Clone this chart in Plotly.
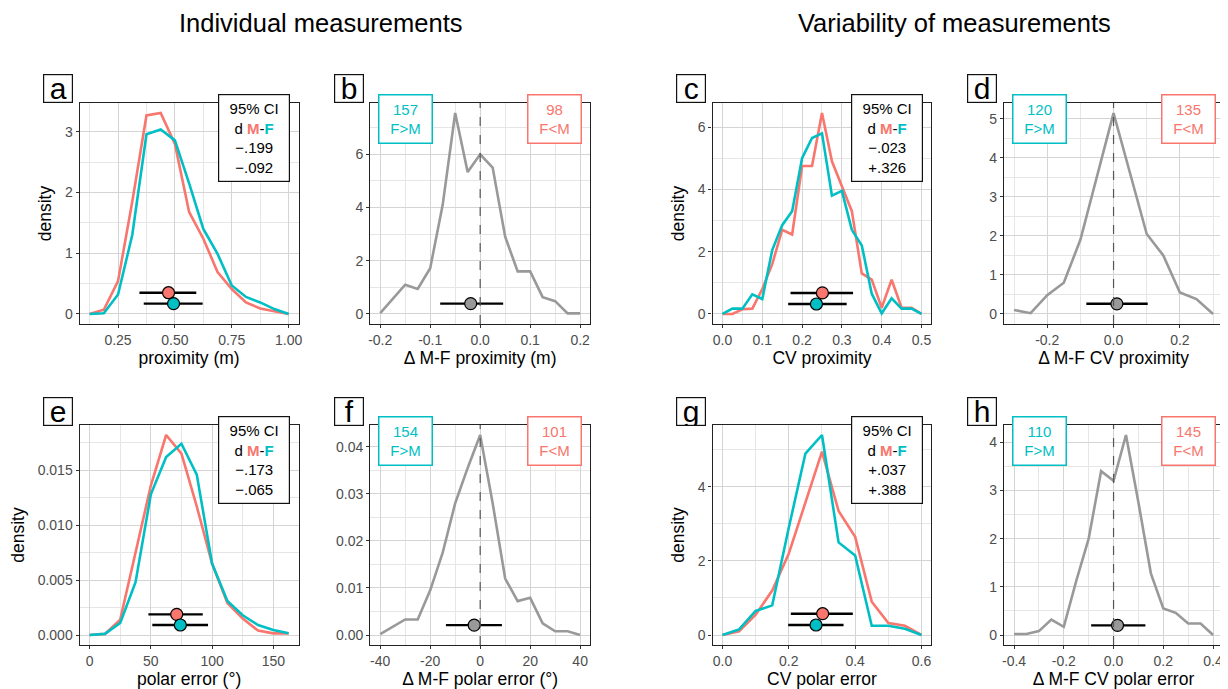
import plotly.graph_objects as go

# page body has an 8px margin: figure is sized/offset to compensate
OFF = 8
W, H = 1228 - OFF, 689 - OFF
RED = "#F8766D"
TEAL = "#00BFC4"
GREY = "#999999"
FONT = "Liberation Sans, Arial, sans-serif"

# ---------------- data ----------------
# a: proximity density
prox_x = [0.125, 0.1875, 0.25, 0.3125, 0.375, 0.4375, 0.5, 0.5625, 0.625, 0.6875, 0.75, 0.8125, 0.875, 0.9375, 1.0]
prox_m = [0, 0.07, 0.54, 1.85, 3.27, 3.31, 2.8, 1.68, 1.24, 0.69, 0.41, 0.19, 0.09, 0.04, 0]
prox_f = [0, 0.01, 0.32, 1.3, 2.96, 3.04, 2.86, 2.15, 1.4, 0.99, 0.47, 0.28, 0.19, 0.08, 0]
prox_ci_mean = [0.472, 0.494]
prox_ci_lo = [0.344, 0.363]
prox_ci_hi = [0.594, 0.622]
prox_ci_y = [0.35, 0.17]
prox_d = ["\u2212.199", "\u2212.092"]

# b: delta proximity
dprox_x = [-0.2, -0.175, -0.15, -0.125, -0.1, -0.075, -0.05, -0.025, 0.0, 0.025, 0.05, 0.075, 0.1, 0.125, 0.15, 0.175, 0.2]
dprox_y = [0.03, 0.57, 1.1, 0.94, 1.72, 4.1, 7.55, 5.33, 6.0, 5.5, 2.9, 1.6, 1.6, 0.63, 0.48, 0.02, 0.02]
dprox_ci = [-0.019, -0.080, 0.046]   # mean, lo, hi
dprox_ci_y = [0.39]
dprox_counts = [157, 98]

# c: CV proximity density
cvprox_x = [0.0, 0.025, 0.05, 0.075, 0.1, 0.125, 0.15, 0.175, 0.2, 0.225, 0.25, 0.275, 0.3, 0.325, 0.35, 0.375, 0.4, 0.425, 0.45, 0.475, 0.5]
cvprox_m = [0, 0.0, 0.15, 0.17, 0.8, 1.6, 2.7, 2.55, 4.75, 4.75, 6.45, 4.9, 4.1, 3.3, 1.3, 1.1, 0.2, 1.1, 0.2, 0.2, 0]
cvprox_f = [0, 0.17, 0.17, 0.63, 0.48, 2.05, 2.85, 3.3, 5.0, 5.65, 5.8, 3.8, 3.95, 2.7, 2.2, 0.65, 0.02, 0.5, 0.17, 0.17, 0]
cvprox_ci_mean = [0.251, 0.236]
cvprox_ci_lo = [0.171, 0.165]
cvprox_ci_hi = [0.328, 0.312]
cvprox_ci_y = [0.675, 0.32]
cvprox_d = ["\u2212.023", "+.326"]

# d: delta CV proximity
dcvprox_x = [-0.3, -0.25, -0.2, -0.15, -0.1, -0.05, 0.0, 0.05, 0.1, 0.15, 0.2, 0.25, 0.3]
dcvprox_y = [0.1, 0.02, 0.48, 0.8, 1.9, 3.55, 5.15, 3.6, 2.05, 1.5, 0.55, 0.38, 0.0]
dcvprox_ci = [0.010, -0.082, 0.103]
dcvprox_ci_y = [0.26]
dcvprox_counts = [120, 135]

# e: polar error density
polar_x = [0, 12.5, 25, 37.5, 50, 62.5, 75, 87.5, 100, 112.5, 125, 137.5, 150, 162.5]
polar_m = [0, 0.0001, 0.0014, 0.0074, 0.0136, 0.0182, 0.0165, 0.0117, 0.0065, 0.0029, 0.0015, 0.0004, 0.00015, 0.00015]
polar_f = [0, 0.0001, 0.0011, 0.0048, 0.0128, 0.0162, 0.0174, 0.0146, 0.0065, 0.0031, 0.0018, 0.0009, 0.00045, 0.00015]
polar_ci_mean = [71.1, 74.1]
polar_ci_lo = [48.0, 51.2]
polar_ci_hi = [92.4, 96.7]
polar_ci_y = [0.00188, 0.00091]
polar_d = ["\u2212.173", "\u2212.065"]

# f: delta polar error
dpolar_x = [-40, -35, -30, -25, -20, -15, -10, -5, 0, 5, 10, 15, 20, 25, 30, 35, 40]
dpolar_y = [0.0002, 0.0017, 0.0033, 0.0033, 0.0095, 0.0175, 0.028, 0.0355, 0.0425, 0.028, 0.012, 0.0072, 0.0079, 0.0025, 0.0008, 0.0008, 0.0]
dpolar_ci = [-2.4, -13.7, 8.7]
dpolar_ci_y = [0.0021]
dpolar_counts = [154, 101]

# g: CV polar error density
cvpolar_x = [0.0, 0.05, 0.1, 0.15, 0.2, 0.25, 0.3, 0.35, 0.4, 0.45, 0.5, 0.55, 0.6]
cvpolar_m = [0, 0.1, 0.55, 1.2, 2.2, 3.6, 4.95, 3.35, 2.65, 0.9, 0.32, 0.25, 0]
cvpolar_f = [0, 0.15, 0.65, 0.8, 2.9, 4.9, 5.4, 2.5, 2.15, 0.25, 0.25, 0.17, 0]
cvpolar_ci_mean = [0.302, 0.282]
cvpolar_ci_lo = [0.206, 0.198]
cvpolar_ci_hi = [0.393, 0.365]
cvpolar_ci_y = [0.575, 0.27]
cvpolar_d = ["+.037", "+.388"]

# h: delta CV polar error
dcvpolar_x = [-0.4, -0.35, -0.3, -0.25, -0.2, -0.15, -0.1, -0.05, 0.0, 0.05, 0.1, 0.15, 0.2, 0.25, 0.3, 0.35, 0.4]
dcvpolar_y = [0.02, 0.02, 0.08, 0.32, 0.17, 1.12, 2.0, 3.4, 3.2, 4.15, 2.75, 1.28, 0.55, 0.46, 0.24, 0.24, 0.0]
dcvpolar_ci = [0.016, -0.090, 0.128]
dcvpolar_ci_y = [0.2]
dcvpolar_counts = [110, 145]

# tick labels
ticks_a_x = [0.25, 0.5, 0.75, 1.0];  ticks_a_xt = ["0.25", "0.50", "0.75", "1.00"]
ticks_a_y = [0, 1, 2, 3];            ticks_a_yt = ["0", "1", "2", "3"]
ticks_b_x = [-0.2, -0.1, 0.0, 0.1, 0.2]; ticks_b_xt = ["-0.2", "-0.1", "0.0", "0.1", "0.2"]
ticks_b_y = [0, 2, 4, 6];            ticks_b_yt = ["0", "2", "4", "6"]
ticks_c_x = [0, 0.1, 0.2, 0.3, 0.4, 0.5]; ticks_c_xt = ["0.0", "0.1", "0.2", "0.3", "0.4", "0.5"]
ticks_c_y = [0, 2, 4, 6];            ticks_c_yt = ["0", "2", "4", "6"]
ticks_d_x = [-0.2, 0.0, 0.2];        ticks_d_xt = ["-0.2", "0.0", "0.2"]
ticks_d_y = [0, 1, 2, 3, 4, 5];      ticks_d_yt = ["0", "1", "2", "3", "4", "5"]
ticks_e_x = [0, 50, 100, 150];       ticks_e_xt = ["0", "50", "100", "150"]
ticks_e_y = [0, 0.005, 0.01, 0.015]; ticks_e_yt = ["0.000", "0.005", "0.010", "0.015"]
ticks_f_x = [-40, -20, 0, 20, 40];   ticks_f_xt = ["-40", "-20", "0", "20", "40"]
ticks_f_y = [0, 0.01, 0.02, 0.03, 0.04]; ticks_f_yt = ["0.00", "0.01", "0.02", "0.03", "0.04"]
ticks_g_x = [0, 0.2, 0.4, 0.6];      ticks_g_xt = ["0.0", "0.2", "0.4", "0.6"]
ticks_g_y = [0, 2, 4];               ticks_g_yt = ["0", "2", "4"]
ticks_h_x = [-0.4, -0.2, 0.0, 0.2, 0.4]; ticks_h_xt = ["-0.4", "-0.2", "0.0", "0.2", "0.4"]
ticks_h_y = [0, 1, 2, 3, 4];         ticks_h_yt = ["0", "1", "2", "3", "4"]

x_titles = ["proximity (m)", "\u0394 M-F proximity (m)", "CV proximity", "\u0394 M-F CV proximity",
            "polar error (\u00b0)", "\u0394 M-F polar error (\u00b0)", "CV polar error", "\u0394 M-F CV polar error"]
letters = ["a", "b", "c", "d", "e", "f", "g", "h"]
titles = ["Individual measurements", "Variability of measurements"]

# ---------------- layout geometry (page pixels) ----------------
col_px = [(78, 298), (370, 591), (714, 934), (1007, 1227)]
row_px = [(103, 324), (425, 645)]
letter_cx = [56, 348.5, 692, 985]
letter_cy = [88.5, 411]


def px(xp):
    return (xp - OFF) / W


def py(yp):
    return 1 - (yp - OFF) / H


def expand(vals, zero=False):
    lo, hi = min(vals), max(vals)
    if zero:
        lo = min(lo, 0)
    r = hi - lo
    return [lo - 0.05 * r, hi + 0.05 * r]


fig = go.Figure()

dens_panels = [
    dict(i=0, x=prox_x, m=prox_m, f=prox_f, cm=prox_ci_mean, cl=prox_ci_lo, ch=prox_ci_hi, cy=prox_ci_y,
         d=prox_d, tx=(ticks_a_x, ticks_a_xt), ty=(ticks_a_y, ticks_a_yt), mx=0.125, my=0.5),
    dict(i=2, x=cvprox_x, m=cvprox_m, f=cvprox_f, cm=cvprox_ci_mean, cl=cvprox_ci_lo, ch=cvprox_ci_hi, cy=cvprox_ci_y,
         d=cvprox_d, tx=(ticks_c_x, ticks_c_xt), ty=(ticks_c_y, ticks_c_yt), mx=0.05, my=1),
    dict(i=4, x=polar_x, m=polar_m, f=polar_f, cm=polar_ci_mean, cl=polar_ci_lo, ch=polar_ci_hi, cy=polar_ci_y,
         d=polar_d, tx=(ticks_e_x, ticks_e_xt), ty=(ticks_e_y, ticks_e_yt), mx=25, my=0.0025),
    dict(i=6, x=cvpolar_x, m=cvpolar_m, f=cvpolar_f, cm=cvpolar_ci_mean, cl=cvpolar_ci_lo, ch=cvpolar_ci_hi, cy=cvpolar_ci_y,
         d=cvpolar_d, tx=(ticks_g_x, ticks_g_xt), ty=(ticks_g_y, ticks_g_yt), mx=0.1, my=1),
]

diff_panels = [
    dict(i=1, x=dprox_x, y=dprox_y, ci=dprox_ci, cy=dprox_ci_y, n=dprox_counts,
         tx=(ticks_b_x, ticks_b_xt), ty=(ticks_b_y, ticks_b_yt), mx=0.05, my=1),
    dict(i=3, x=dcvprox_x, y=dcvprox_y, ci=dcvprox_ci, cy=dcvprox_ci_y, n=dcvprox_counts,
         tx=(ticks_d_x, ticks_d_xt), ty=(ticks_d_y, ticks_d_yt), mx=0.1, my=0.5),
    dict(i=5, x=dpolar_x, y=dpolar_y, ci=dpolar_ci, cy=dpolar_ci_y, n=dpolar_counts,
         tx=(ticks_f_x, ticks_f_xt), ty=(ticks_f_y, ticks_f_yt), mx=10, my=0.005),
    dict(i=7, x=dcvpolar_x, y=dcvpolar_y, ci=dcvpolar_ci, cy=dcvpolar_ci_y, n=dcvpolar_counts,
         tx=(ticks_h_x, ticks_h_xt), ty=(ticks_h_y, ticks_h_yt), mx=0.1, my=0.5),
]

layout_axes = {}
annotations = []
shapes = []


def axis_names(i):
    n = "" if i == 0 else str(i + 1)
    return "x" + n, "y" + n, "xaxis" + n, "yaxis" + n


def base_axis(domain, rng, ticks, minor_dt, anchor, title=None, is_y=False):
    tv, tt = ticks
    d = dict(
        domain=domain, range=rng, anchor=anchor,
        tickmode="array", tickvals=tv, ticktext=tt,
        showgrid=True, gridcolor="#d4d4d4", gridwidth=1,
        minor=dict(tickmode="linear", tick0=0, dtick=minor_dt, showgrid=True,
                   gridcolor="#e6e6e6", gridwidth=1, ticks=""),
        zeroline=False, showline=True, mirror=True, linecolor="#222222", linewidth=1.3,
        ticks="outside", ticklen=3, tickcolor="#333333", tickwidth=1,
        tickfont=dict(family=FONT, size=14, color="#4d4d4d"),
        fixedrange=True,
    )
    if title:
        d["title"] = dict(text=title, font=dict(family=FONT, size=17.5, color="#000000"),
                          standoff=8 if is_y else 3)
    return d


def panel_domains(i):
    r, c = divmod(i, 4)
    x0, x1 = col_px[c]
    y0, y1 = row_px[r]
    return [px(x0), px(x1)], [py(y1), py(y0)], r, c


CI_TEMPLATE = ("95% CI<br>d <b><span style='color:{red}'>M</span></b>-"
               "<b><span style='color:{teal}'>F</span></b><br>{lo}<br>{hi}")

for p in dens_panels:
    i = p["i"]
    xn, yn, xa, ya = axis_names(i)
    xd, yd, r, c = panel_domains(i)
    xr = expand(p["x"] + p["cl"] + p["ch"])
    yr = expand(p["m"] + p["f"] + p["cy"], zero=True)
    layout_axes[xa] = base_axis(xd, xr, p["tx"], p["mx"], yn, x_titles[i])
    layout_axes[ya] = base_axis(yd, yr, p["ty"], p["my"], xn, "density", is_y=True)
    fig.add_trace(go.Scatter(x=p["x"], y=p["m"], mode="lines", line=dict(color=RED, width=2.6),
                             xaxis=xn, yaxis=yn, showlegend=False, hoverinfo="skip"))
    fig.add_trace(go.Scatter(x=p["x"], y=p["f"], mode="lines", line=dict(color=TEAL, width=2.6),
                             xaxis=xn, yaxis=yn, showlegend=False, hoverinfo="skip"))
    for k, col in enumerate([RED, TEAL]):
        fig.add_trace(go.Scatter(
            x=[p["cm"][k]], y=[p["cy"][k]], mode="markers",
            marker=dict(size=12, color=col, line=dict(color="#000000", width=1.2)),
            error_x=dict(type="data", symmetric=False, array=[p["ch"][k] - p["cm"][k]],
                         arrayminus=[p["cm"][k] - p["cl"][k]], color="#000000", thickness=2.4, width=0),
            xaxis=xn, yaxis=yn, showlegend=False, hoverinfo="skip"))
    cx = col_px[c][1] - 45
    cy = row_px[r][0] + 35
    txt = CI_TEMPLATE.format(red=RED, teal=TEAL, lo=p["d"][0], hi=p["d"][1])
    annotations.append(dict(x=px(cx), y=py(cy), xref="paper", yref="paper", xanchor="center", yanchor="middle",
                            text=txt, showarrow=False, align="center",
                            font=dict(family=FONT, size=15, color="#000000"),
                            bgcolor="#ffffff", bordercolor="#111111", borderwidth=1.2, borderpad=0,
                            width=70, height=86))

for p in diff_panels:
    i = p["i"]
    xn, yn, xa, ya = axis_names(i)
    xd, yd, r, c = panel_domains(i)
    xr = expand(p["x"] + p["ci"])
    yr = expand(p["y"] + p["cy"], zero=True)
    layout_axes[xa] = base_axis(xd, xr, p["tx"], p["mx"], yn, x_titles[i])
    layout_axes[ya] = base_axis(yd, yr, p["ty"], p["my"], xn, None, is_y=True)
    shapes.append(dict(type="line", xref=xn, yref=yn + " domain", x0=0, x1=0, y0=0, y1=1,
                       line=dict(color="#555555", width=1.2, dash="dash"), layer="above"))
    fig.add_trace(go.Scatter(x=p["x"], y=p["y"], mode="lines", line=dict(color=GREY, width=2.6),
                             xaxis=xn, yaxis=yn, showlegend=False, hoverinfo="skip"))
    fig.add_trace(go.Scatter(
        x=[p["ci"][0]], y=p["cy"], mode="markers",
        marker=dict(size=12, color=GREY, line=dict(color="#000000", width=1.2)),
        error_x=dict(type="data", symmetric=False, array=[p["ci"][2] - p["ci"][0]],
                     arrayminus=[p["ci"][0] - p["ci"][1]], color="#000000", thickness=2.4, width=0),
        xaxis=xn, yaxis=yn, showlegend=False, hoverinfo="skip"))
    cyy = row_px[r][0] + 16
    x0p = col_px[c][0]
    for k, (col, lab) in enumerate([(TEAL, "F&gt;M"), (RED, "F&lt;M")]):
        cx = x0p + 35.5 if k == 0 else x0p + 185.5
        annotations.append(dict(x=px(cx), y=py(cyy), xref="paper", yref="paper", xanchor="center", yanchor="middle",
                                text="{}<br>{}".format(p["n"][k], lab), showarrow=False, align="center",
                                font=dict(family=FONT, size=15, color=col),
                                bgcolor="#ffffff", bordercolor=col, borderwidth=1.5, borderpad=0,
                                width=52, height=47))

for i, L in enumerate(letters):
    r, c = divmod(i, 4)
    annotations.append(dict(x=px(letter_cx[c]), y=py(letter_cy[r]), xref="paper", yref="paper",
                            xanchor="center", yanchor="middle", text=L, showarrow=False,
                            font=dict(family=FONT, size=30, color="#000000"),
                            bgcolor="#ffffff", bordercolor="#111111", borderwidth=1.2, borderpad=0,
                            width=28, height=27))

for t, cx in zip(titles, [320, 957]):
    annotations.append(dict(x=px(cx), y=py(23), xref="paper", yref="paper", xanchor="center", yanchor="middle",
                            text=t, showarrow=False, font=dict(family=FONT, size=25.5, color="#000000")))

fig.update_layout(
    width=W, height=H, margin=dict(l=0, r=0, t=0, b=0),
    paper_bgcolor="#ffffff", plot_bgcolor="#ffffff",
    annotations=annotations, shapes=shapes, showlegend=False,
    font=dict(family=FONT),
    **layout_axes,
)

fig.write_html("out.html")
